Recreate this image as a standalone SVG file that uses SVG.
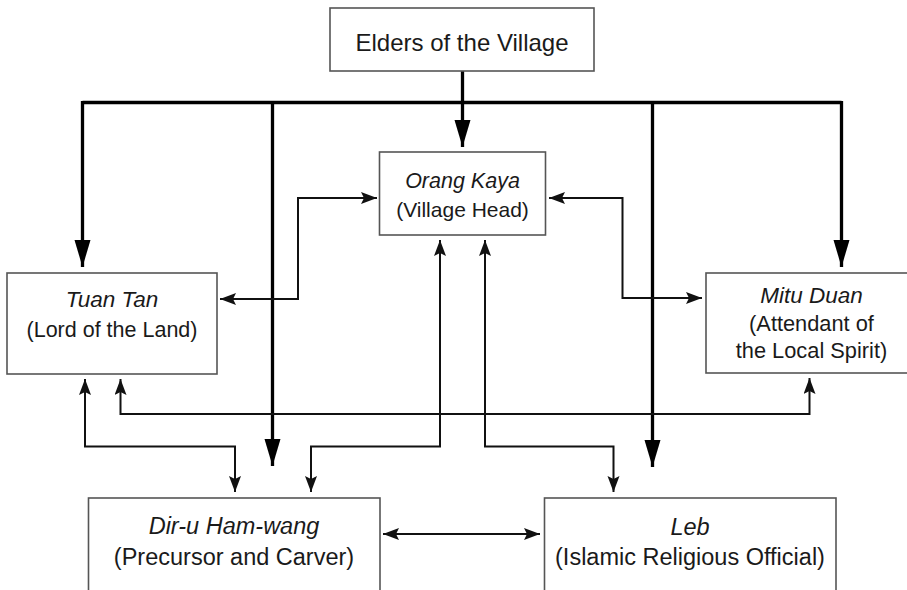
<svg xmlns="http://www.w3.org/2000/svg" width="907" height="590" viewBox="0 0 907 590">
<style>
.box{fill:#fff;stroke:#555;stroke-width:1.6}
.t{font-family:"Liberation Sans",Arial,sans-serif;fill:#1a1a1a;text-anchor:middle}
.i{font-style:italic}
.thick{fill:none;stroke:#000;stroke-width:3.3}
.thin{fill:none;stroke:#111;stroke-width:2}
</style>
<defs>
<marker id="big" markerUnits="userSpaceOnUse" markerWidth="30" markerHeight="20" refX="27" refY="8" orient="auto" viewBox="0 0 30 20">
<path d="M0,0 L27,8 L0,16 Z" fill="#000"/>
</marker>
<marker id="sm" markerUnits="userSpaceOnUse" markerWidth="18" markerHeight="14" refX="16" refY="6" orient="auto-start-reverse" viewBox="0 0 18 14">
<path d="M0,0 L16,6 L0,12 L3,6 Z" fill="#111"/>
</marker>
</defs>
<rect width="907" height="590" fill="#fff"/>

<g id="connectors">
<!-- thick from elders -->
<path class="thick" d="M462.5,71 V102.5"/>
<path class="thick" d="M82.5,102.5 H841.5"/>
<path class="thick" d="M462.5,102.5 V147" marker-end="url(#big)"/>
<path class="thick" d="M82.5,101 V267" marker-end="url(#big)"/>
<path class="thick" d="M841.5,101 V267" marker-end="url(#big)"/>
<path class="thick" d="M272.5,102.5 V466" marker-end="url(#big)"/>
<path class="thick" d="M652.5,102.5 V467" marker-end="url(#big)"/>
<!-- thin two-way -->
<path class="thin" d="M220,299 H298 V198 H377" marker-start="url(#sm)" marker-end="url(#sm)"/>
<path class="thin" d="M549,198 H622.5 V298 H702" marker-start="url(#sm)" marker-end="url(#sm)"/>
<path class="thin" d="M120.5,379 V414 H809.5 V378" marker-start="url(#sm)" marker-end="url(#sm)"/>
<path class="thin" d="M85,379 V446.5 H235 V492" marker-start="url(#sm)" marker-end="url(#sm)"/>
<path class="thin" d="M440,240 V446.5 H311 V492" marker-start="url(#sm)" marker-end="url(#sm)"/>
<path class="thin" d="M485,240 V446.5 H613.5 V492" marker-start="url(#sm)" marker-end="url(#sm)"/>
<path class="thin" d="M383,534 H540" marker-start="url(#sm)" marker-end="url(#sm)"/>
</g>

<g id="elders">
<rect class="box" x="330" y="8" width="264" height="63"/>
<text class="t" x="462" y="50.5" font-size="24">Elders of the Village</text>
</g>

<g id="orang-kaya">
<rect class="box" x="379.5" y="152" width="166" height="83"/>
<text class="t" x="462.5" y="188" font-size="21.5"><tspan class="i">Orang Kaya</tspan></text>
<text class="t" x="462.5" y="217" font-size="21">(Village Head)</text>
</g>

<g id="tuan-tan">
<rect class="box" x="7" y="273" width="210" height="101"/>
<text class="t i" x="112" y="306.5" font-size="22.5">Tuan Tan</text>
<text class="t" x="112" y="336.5" font-size="21.5">(Lord of the Land)</text>
</g>

<g id="mitu-duan">
<rect class="box" x="706" y="273" width="220" height="100"/>
<text class="t i" x="811.5" y="302.5" font-size="22.5">Mitu Duan</text>
<text class="t" x="811.5" y="330.5" font-size="21.8">(Attendant of</text>
<text class="t" x="811.5" y="358" font-size="21.8">the Local Spirit)</text>
</g>

<g id="dir-u-ham-wang">
<rect class="box" x="88.5" y="498" width="291.5" height="110"/>
<text class="t i" x="234" y="533.5" font-size="23.5">Dir-u Ham-wang</text>
<text class="t" x="234" y="565" font-size="23.5">(Precursor and Carver)</text>
</g>

<g id="leb">
<rect class="box" x="544.5" y="498" width="291.5" height="110"/>
<text class="t i" x="690" y="534.5" font-size="23.5">Leb</text>
<text class="t" x="690" y="565" font-size="23.5">(Islamic Religious Official)</text>
</g>
</svg>
